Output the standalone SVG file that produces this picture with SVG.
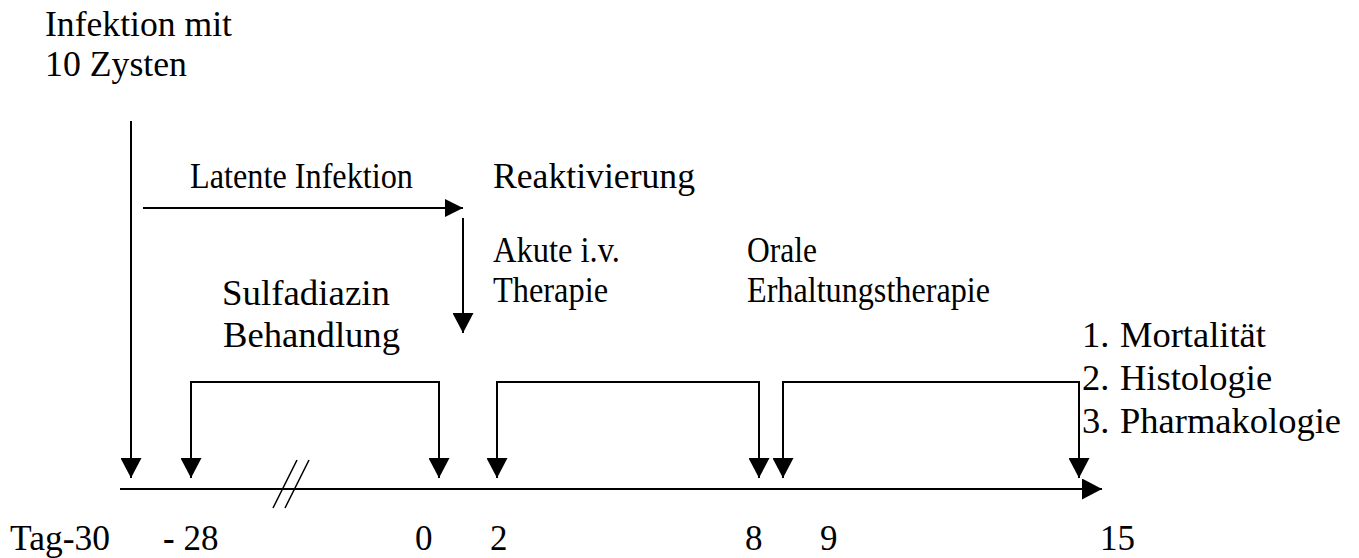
<svg xmlns="http://www.w3.org/2000/svg" width="1359" height="558" viewBox="0 0 1359 558">
  <style>
    text { font-family: "Liberation Serif", "Times New Roman", serif; font-size: 35px; fill: #000; }
    .list text { font-size: 36.5px; }
    .ln { stroke: #000; stroke-width: 2; fill: none; }
    .thin { stroke: #000; stroke-width: 1.5; fill: none; }
  </style>
  <defs>
    <marker id="head" viewBox="0 0 20 20" refX="20" refY="10" markerWidth="20" markerHeight="21" markerUnits="userSpaceOnUse" orient="auto" preserveAspectRatio="none">
      <path d="M0,0 L20,10 L0,20 Z" fill="#000"/>
    </marker>
    <marker id="headSm" viewBox="0 0 20 20" refX="20" refY="10" markerWidth="18" markerHeight="18" markerUnits="userSpaceOnUse" orient="auto" preserveAspectRatio="none">
      <path d="M0,0 L20,10 L0,20 Z" fill="#000"/>
    </marker>
  </defs>

  <!-- labels above the timeline -->
  <g id="infektion">
    <text x="45" y="36" textLength="187" lengthAdjust="spacingAndGlyphs">Infektion mit</text>
    <text x="45" y="76" textLength="142" lengthAdjust="spacingAndGlyphs">10 Zysten</text>
  </g>
  <g id="latent">
    <text x="190" y="188" textLength="223" lengthAdjust="spacingAndGlyphs">Latente Infektion</text>
  </g>
  <g id="reaktivierung">
    <text x="493" y="188" textLength="202" lengthAdjust="spacingAndGlyphs">Reaktivierung</text>
  </g>
  <g id="sulfadiazin">
    <text x="222" y="305" textLength="168" lengthAdjust="spacingAndGlyphs">Sulfadiazin</text>
    <text x="223" y="347" textLength="177" lengthAdjust="spacingAndGlyphs">Behandlung</text>
  </g>
  <g id="akut">
    <text x="493" y="262" textLength="127" lengthAdjust="spacingAndGlyphs">Akute i.v.</text>
    <text x="493" y="302" textLength="115" lengthAdjust="spacingAndGlyphs">Therapie</text>
  </g>
  <g id="oral">
    <text x="747" y="262" textLength="70" lengthAdjust="spacingAndGlyphs">Orale</text>
    <text x="747" y="302" textLength="243" lengthAdjust="spacingAndGlyphs">Erhaltungstherapie</text>
  </g>
  <g id="endpunkte" class="list">
    <text x="1082" y="347">1.<tspan x="1120">Mortalität</tspan></text>
    <text x="1082" y="390">2.<tspan x="1120">Histologie</tspan></text>
    <text x="1082" y="433">3.<tspan x="1120">Pharmakologie</tspan></text>
  </g>

  <!-- day labels under the axis -->
  <g id="tage">
    <text x="10" y="550" textLength="100" lengthAdjust="spacingAndGlyphs">Tag-30</text>
    <text x="163" y="550"><tspan font-weight="bold">-</tspan> 28</text>
    <text x="415" y="550">0</text>
    <text x="490" y="550">2</text>
    <text x="745" y="550">8</text>
    <text x="820" y="550">9</text>
    <text x="1100" y="550">15</text>
  </g>

  <g id="connectors">
    <!-- time axis -->
    <line class="ln" x1="120" y1="489" x2="1102" y2="489" marker-end="url(#head)"/>
    <!-- axis break -->
    <line class="thin" x1="273" y1="508" x2="297" y2="460"/>
    <line class="thin" x1="285" y1="508" x2="309" y2="460"/>
    <!-- infection day -->
    <line class="ln" x1="131" y1="121" x2="131" y2="478" marker-end="url(#head)"/>
    <!-- latent phase -->
    <line class="ln" x1="143" y1="208" x2="463" y2="208" marker-end="url(#headSm)"/>
    <!-- reactivation -->
    <line class="ln" x1="463" y1="218" x2="463" y2="333" marker-end="url(#head)"/>
    <!-- sulfadiazine period -->
    <path class="ln" d="M191,470 V382 H439 V470" />
    <line class="ln" x1="191" y1="400" x2="191" y2="478" marker-end="url(#head)"/>
    <line class="ln" x1="439" y1="400" x2="439" y2="478" marker-end="url(#head)"/>
    <!-- acute i.v. therapy -->
    <path class="ln" d="M497,470 V382 H759 V470" />
    <line class="ln" x1="497" y1="400" x2="497" y2="478" marker-end="url(#head)"/>
    <line class="ln" x1="759" y1="400" x2="759" y2="478" marker-end="url(#head)"/>
    <!-- oral maintenance therapy -->
    <path class="ln" d="M783,470 V382 H1079 V470" />
    <line class="ln" x1="783" y1="400" x2="783" y2="478" marker-end="url(#head)"/>
    <line class="ln" x1="1079" y1="400" x2="1079" y2="478" marker-end="url(#head)"/>
  </g>
</svg>
